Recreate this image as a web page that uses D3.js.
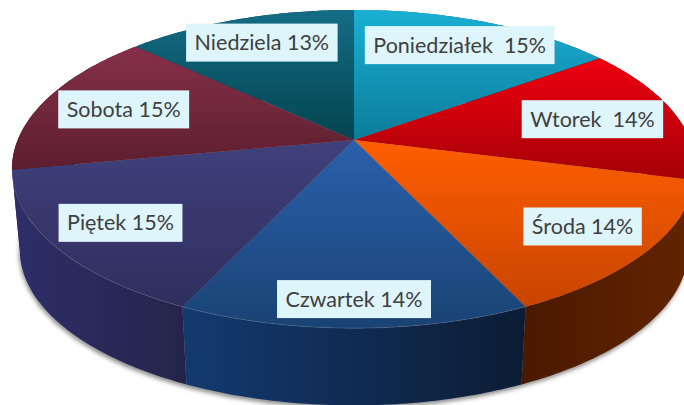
<!DOCTYPE html>
<html>
<head>
<meta charset="utf-8">
<script src="https://cdn.jsdelivr.net/npm/d3@7"></script>
<style>
  html, body { margin: 0; padding: 0; background: #fff; overflow: hidden; }
  text { font-family: Lato, "Open Sans", sans-serif; font-size: 21.5px; fill: #404040; white-space: pre; }
</style>
</head>
<body>
<div id="chart"></div>
<script>
const days = ["Poniedziałek", "Wtorek", "Środa", "Czwartek", "Piątek", "Sobota", "Niedziela"];
const shares = [15, 14, 14, 14, 15, 15, 13];
const labels = ["Poniedziałek  15%", "Wtorek  14%", "Środa 14%", "Czwartek 14%", "Piętek 15%", "Sobota 15%", "Niedziela 13%"];

const topLight = ["#1ab0d4", "#ee0010", "#ff5e00", "#2a60ab", "#40407c", "#86304a", "#146c86"];
const topDark = ["#0b7c9a", "#a50006", "#c84400", "#1a4374", "#2e2e5e", "#5c1e2e", "#04444f"];
const sideLeft = ["#0b5a70", "#7a0004", "#4a1900", "#133a70", "#2e2e6a", "#4a1826", "#03343f"];
const sideRight = ["#084050", "#5a0003", "#632400", "#0c1c34", "#24244a", "#3a1420", "#022830"];

const width = 684, height = 405;
const cx = 354, cy = 140;
// perspective of the tilted disc, fitted to the picture
const depth = 5.48, focalX = 1843, focalY = 843;
const wallShrink = 0.977, wallDrop = 81.5;
const labelRadius = [0.78, 0.74, 0.8, 0.87, 0.8, 0.74, 0.78];
const boxHeight = 38, boxPad = 8.5;

const project = (angle, r) => {
    const px = r * Math.sin(angle);
    const py = -r * Math.cos(angle);
    return [focalX * px / (depth - py), focalY * py / (depth - py)];
};
const onTop = (angle, r = 1) => {
    const [x, y] = project(angle, r);
    return [cx + x, cy + y];
};
const onFloor = (angle) => {
    const [x, y] = project(angle, 1);
    return [cx + x * wallShrink, cy + wallDrop + y * wallShrink];
};
const rim = (d) => d3.range(0, 61).map((i) => d.startAngle + (d.endAngle - d.startAngle) * i / 60);

const pie = d3.pie().sort(null)(shares);
const line = d3.line();

const svg = d3.select("#chart").append("svg")
    .attr("width", width)
    .attr("height", height)
    .style("display", "block");

const defs = svg.append("defs");
defs.append("filter").attr("id", "soft")
    .attr("x", "-5%").attr("y", "-5%").attr("width", "110%").attr("height", "110%")
    .append("feGaussianBlur").attr("stdDeviation", 2.2);

days.forEach((day, i) => {
    const topGrad = defs.append("linearGradient").attr("id", `top${i}`)
        .attr("x1", 0).attr("y1", 0).attr("x2", 0).attr("y2", 1);
    topGrad.append("stop").attr("offset", 0).attr("stop-color", topLight[i]);
    topGrad.append("stop").attr("offset", 1).attr("stop-color", topDark[i]);
    const sideGrad = defs.append("linearGradient").attr("id", `side${i}`)
        .attr("x1", 0).attr("y1", 0).attr("x2", 1).attr("y2", 0);
    sideGrad.append("stop").attr("offset", 0).attr("stop-color", sideLeft[i]);
    sideGrad.append("stop").attr("offset", 1).attr("stop-color", sideRight[i]);
});

// soft shadow under the disc
const fullTurn = { startAngle: 0, endAngle: 2 * Math.PI };
svg.append("path")
    .attr("d", line(rim(fullTurn).map(onFloor)) + "Z")
    .attr("transform", "translate(-1, 3)")
    .attr("fill", "#8c8c8c")
    .attr("filter", "url(#soft)");

// walls, back ones first
const wallOrder = d3.range(pie.length).sort((a, b) => {
    const mid = (d) => Math.abs((d.startAngle + d.endAngle) / 2 - Math.PI);
    return mid(pie[b]) - mid(pie[a]);
});
svg.append("g").attr("class", "walls")
    .selectAll("path")
    .data(wallOrder)
    .join("path")
    .attr("d", (i) => {
        const angles = rim(pie[i]);
        return line(angles.map((a) => onTop(a)).concat(angles.slice().reverse().map(onFloor))) + "Z";
    })
    .attr("fill", (i) => `url(#side${i})`);

// top faces
svg.append("g").attr("class", "slices")
    .selectAll("path")
    .data(pie)
    .join("path")
    .attr("d", (d) => line([[cx, cy]].concat(rim(d).map((a) => onTop(a)))) + "Z")
    .attr("fill", (d, i) => `url(#top${i})`);

// thin light rim on the front edge
svg.append("g").attr("class", "rims")
    .selectAll("path")
    .data(pie.filter((d) => d.index >= 3 && d.index <= 4))
    .join("path")
    .attr("d", (d) => line(rim(d).map((a) => onTop(a))))
    .attr("fill", "none")
    .attr("stroke", "#fff")
    .attr("stroke-opacity", 0.12)
    .attr("stroke-width", 1);

const label = svg.append("g").attr("class", "labels")
    .selectAll("g")
    .data(pie)
    .join("g")
    .attr("transform", (d, i) => {
        const [x, y] = onTop((d.startAngle + d.endAngle) / 2, labelRadius[i]);
        return `translate(${x}, ${y})`;
    });

const boxes = label.append("rect")
    .attr("fill", "#def5fb");

const texts = label.append("text")
    .attr("text-anchor", "middle")
    .attr("y", 7.5)
    .text((d, i) => labels[i]);

boxes.each(function (d, i) {
    const w = texts.nodes()[i].getComputedTextLength() + boxPad * 2;
    d3.select(this)
        .attr("x", -w / 2)
        .attr("y", -boxHeight / 2)
        .attr("width", w)
        .attr("height", boxHeight);
});
</script>
</body>
</html>
